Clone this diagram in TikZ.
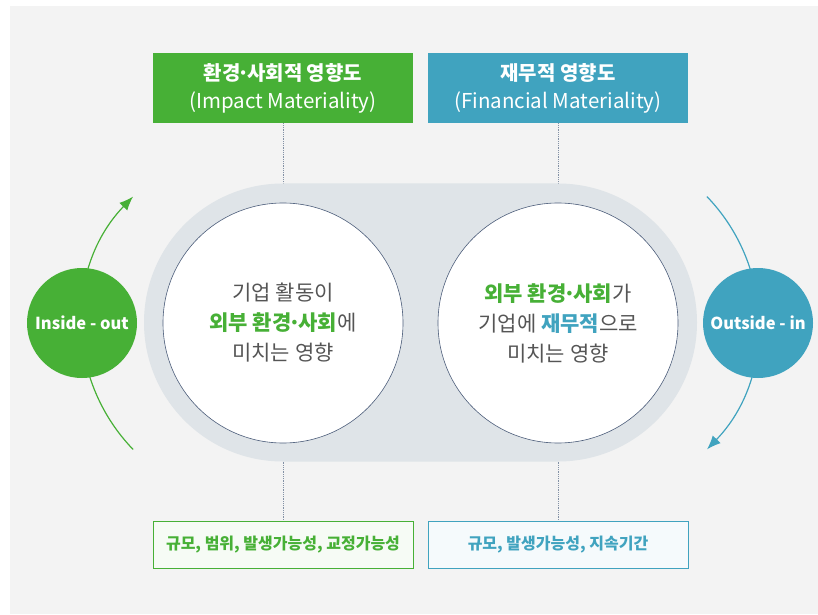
\documentclass[tikz,border=0pt]{standalone}
\usepackage{fontspec}
\setmainfont{Noto Sans CJK KR}
\usetikzlibrary{arrows.meta,calc}

\definecolor{bggray}{HTML}{F3F3F3}
\definecolor{pillgray}{HTML}{DFE4E8}
\definecolor{impgreen}{HTML}{47B036}
\definecolor{finblue}{HTML}{40A3BF}
\definecolor{txtgray}{HTML}{555555}
\definecolor{rimblue}{HTML}{4C5D7A}
\definecolor{dotgray}{HTML}{8391A5}

\newcommand{\middot}{\kern-0.14em·\kern-0.14em}

\tikzset{
  headbox/.style={minimum width=260pt, minimum height=70pt, inner sep=0pt, text=white, align=center, font=\fontsize{20.5}{28}\selectfont},
  footbox/.style={minimum width=260pt, minimum height=47pt, inner sep=0pt, line width=1pt, font=\bfseries\fontsize{16}{18}\selectfont},
  midcircle/.style={circle, fill=white, draw=rimblue, line width=0.6pt, minimum size=240pt, inner sep=0pt, align=center, text=txtgray, font=\fontsize{21}{30}\selectfont},
  sidecircle/.style={circle, minimum size=110pt, inner sep=0pt, text=white, font=\bfseries\fontsize{16.5}{18}\selectfont},
  guide/.style={dotgray, densely dotted, line width=0.8pt},
  turn/.style={line width=1.2pt, -{Latex[length=14pt,width=11pt]}}
}

\begin{document}
\begin{tikzpicture}[x=1pt, y=1pt]
  \useasboundingbox (0,0) rectangle (818,614);
  \fill[bggray] (10,0) rectangle (818,608);     % page backdrop

  % headers and footers
  \node[headbox, fill=impgreen] (imphead) at (283,526) {{\bfseries\fontsize{20}{28}\selectfont 환경\middot 사회적 영향도}\\(Impact Materiality)};
  \node[headbox, fill=finblue] (finhead) at (558,526) {{\bfseries\fontsize{20}{28}\selectfont 재무적 영향도}\\(Financial Materiality)};
  \node[footbox, draw=impgreen, fill=impgreen!5, text=impgreen] (impfoot) at (283,69.5) {규모, 범위, 발생가능성, 교정가능성};
  \node[footbox, draw=finblue, fill=finblue!5, text=finblue] (finfoot) at (558,69.5) {규모, 발생가능성, 지속기간};

  \draw[guide] (imphead) -- (impfoot);
  \draw[guide] (finhead) -- (finfoot);

  % the pill with two circles
  \fill[pillgray, rounded corners=139pt] (144,152.5) rectangle (697,430.5);
  \node[midcircle] (impcircle) at (283,291) {기업 활동이\\{\bfseries\color{impgreen}외부 환경\middot 사회}에\\미치는 영향};
  \node[midcircle] (fincircle) at (558,291) {{\bfseries\color{impgreen}외부 환경\middot 사회}가\\기업에 {\bfseries\color{finblue}재무적}으로\\미치는 영향};

  % turning arrows
  \coordinate (inpivot) at (264,291);
  \coordinate (outpivot) at (576,291);
  \coordinate (inlow) at ($(inpivot)+(224:182)$);
  \coordinate (outhigh) at ($(outpivot)+(44:182)$);
  \draw[turn, impgreen] (inlow) arc[start angle=224, end angle=136, radius=182];
  \draw[turn, finblue] (outhigh) arc[start angle=44, end angle=-44, radius=182];

  \node[sidecircle, fill=impgreen] (inout) at (82,291) {Inside - out};
  \node[sidecircle, fill=finblue] (outin) at (758,291) {Outside - in};
\end{tikzpicture}
\end{document}
